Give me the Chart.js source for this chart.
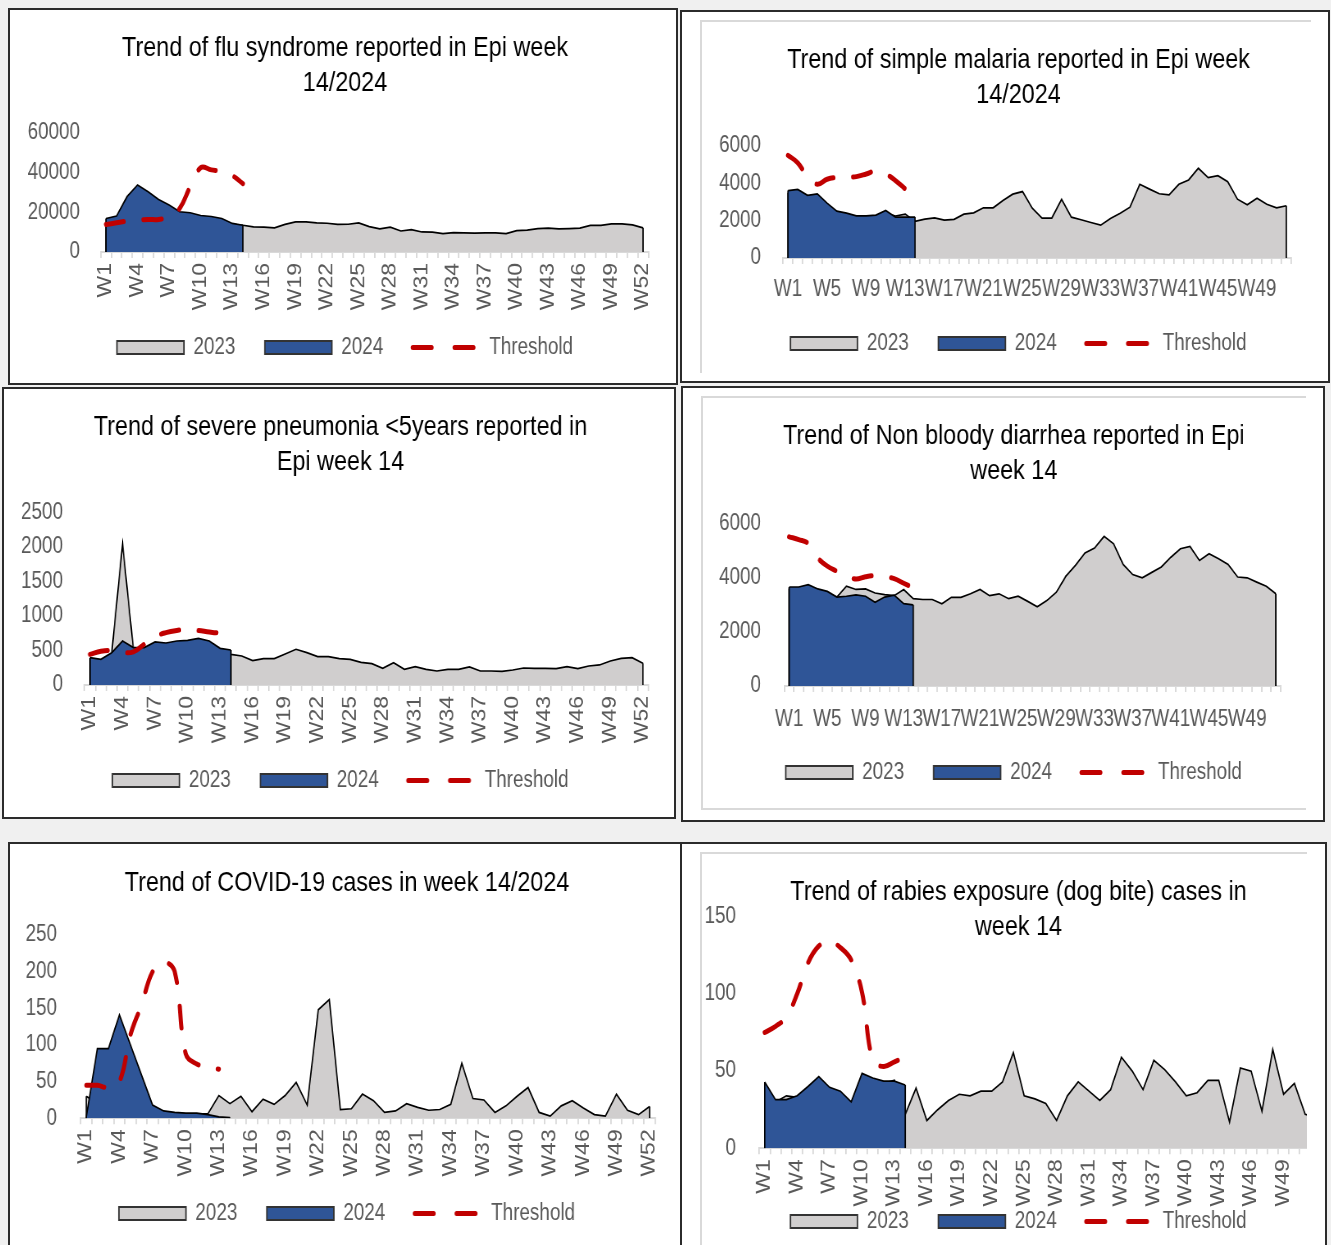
<!DOCTYPE html>
<html><head><meta charset="utf-8">
<script src="https://cdn.jsdelivr.net/npm/chart.js@4.4.1/dist/chart.umd.min.js"></script>
<style>
html,body{margin:0;padding:0;background:#f0f0f0;width:1331px;height:1245px;overflow:hidden;position:relative}
.panel{position:absolute;background:#fff;border:2px solid #2b2b2b;box-sizing:border-box}
.frame{position:absolute;border:0 solid #d9d9d9;box-sizing:border-box}
.wrap{position:absolute;overflow:hidden}
canvas{position:absolute;left:0;top:0;transform-origin:0 0}
</style></head><body>
<div class="panel" style="left:8px;top:8px;width:670px;height:377px"></div>
<div class="panel" style="left:680px;top:10px;width:650px;height:373px"></div>
<div class="frame" style="left:700px;top:20px;width:611px;height:353px;border-top-width:2px;border-left-width:2px"></div>
<div class="panel" style="left:2px;top:387px;width:674px;height:432px"></div>
<div class="panel" style="left:681px;top:386px;width:644px;height:436px"></div>
<div class="frame" style="left:701px;top:396px;width:605px;height:414px;border-top-width:2px;border-left-width:2px;border-bottom-width:2px"></div>
<div class="panel" style="left:8px;top:842px;width:674px;height:420px"></div>
<div class="panel" style="left:680px;top:842px;width:647px;height:420px"></div>
<div class="frame" style="left:700px;top:852px;width:607px;height:400px;border-top-width:2px;border-left-width:2px"></div>
<script>
// ---------- DATA ----------
const weeks = ['W1','W2','W3','W4','W5','W6','W7','W8','W9','W10','W11','W12','W13','W14','W15','W16','W17','W18','W19','W20','W21','W22','W23','W24','W25','W26','W27','W28','W29','W30','W31','W32','W33','W34','W35','W36','W37','W38','W39','W40','W41','W42','W43','W44','W45','W46','W47','W48','W49','W50','W51','W52'];
const seriesNames = ['2023', '2024', 'Threshold'];

const fluTitle = ['Trend of flu syndrome reported in Epi week', '14/2024'];
const flu2023 = [15000,16000,22000,28000,27000,24000,21000,18000,17000,16500,16000,15000,14000,13500,12700,12500,12200,13900,15200,15200,14700,14500,13900,14000,14700,12800,11700,12500,10600,11300,10100,10000,9300,9800,9600,9500,9600,9600,9300,10800,11000,11800,12000,11700,11800,12000,13400,13400,14200,14200,13700,12200];
const flu2024 = [16900,18100,27900,33800,30400,26500,23700,20300,19800,18400,17900,16900,14400,13500];
const fluThreshold = [13900,14700,15600,16000,16400,16400,18000,22000,33000,42500,41400,40500,38500,34500];
const fluTicks = [0, 60000, 20000];

const malariaTitle = ['Trend of simple malaria reported in Epi week', '14/2024'];
const malaria2023 = [3500,3500,3300,3300,2800,2400,2300,2200,2200,2200,2400,2250,2350,1960,2080,2150,2030,2070,2350,2420,2690,2690,3080,3420,3560,2670,2140,2140,3150,2190,2050,1900,1760,2120,2400,2720,3950,3690,3440,3380,3950,4180,4810,4310,4410,4090,3150,2850,3200,2880,2690,2800];
const malaria2024 = [3610,3670,3360,3440,2940,2510,2400,2260,2260,2300,2550,2190,2190,2190];
const malariaThreshold = [5500,5100,4350,3950,4220,4320,4330,4360,4500,4660,4500,4150,3700,3300];
const malariaTicks = [0, 6000, 2000];

const pneuTitle = ['Trend of severe pneumonia <5years reported in', 'Epi week 14'];
const pneu2023 = [380,360,460,2040,520,530,560,580,600,610,620,600,500,444,420,353,382,382,449,517,469,411,411,382,372,328,309,241,324,227,266,227,203,227,227,261,203,203,198,217,246,241,241,237,266,237,275,290,348,386,396,314];
const pneu2024 = [396,372,468,637,541,541,623,608,637,647,676,637,531,507];
const pneuThreshold = [444,488,500,470,480,590,700,758,790,805,790,768,750,740];
const pneuTicks = [0, 2500, 500];

const diarTitle = ['Trend of Non bloody diarrhea reported in Epi', 'week 14'];
const diar2023 = [3600,3600,3700,3500,3350,3280,3680,3560,3580,3430,3370,3330,3560,3220,3190,3190,3030,3270,3270,3400,3560,3330,3400,3220,3310,3120,2920,3150,3460,4050,4450,4910,5090,5520,5240,4480,4110,3990,4190,4390,4750,5060,5150,4630,4880,4690,4480,4020,3990,3830,3680,3400];
const diar2024 = [3650,3650,3740,3580,3490,3280,3310,3360,3310,3090,3280,3350,3040,2990];
const diarThreshold = [5500,5400,5250,4720,4420,4230,4050,3950,4030,4070,4030,3960,3790,3620];
const diarTicks = [0, 6000, 2000];

const covidTitle = 'Trend of COVID-19 cases in week 14/2024';
const covid2023 = [30,20,40,60,50,30,12,8,7,6,6,6,31,20,30,9,26,19,31,49,18,148,162,12,13,33,24,8,10,20,15,11,12,19,75,27,25,8,17,30,42,8,3,17,24,14,5,3,33,11,5,16];
const covid2024 = [2,95,95,141,100,59,18,10,8,7,7,5,2,1];
const covidThreshold = [45,45,42,50,114,155,200,213,200,88,74,70,67];
const covidTicks = [0, 250, 50];

const rabiesTitle = ['Trend of rabies exposure (dog bite) cases in', 'week 14'];
const rabies2023 = [40,30,34,33,38,44,38,35,28,45,43,42,44,22,39,18,25,31,35,34,37,37,43,62,34,32,29,18,34,43,37,31,38,59,50,38,57,51,43,34,36,44,44,17,52,50,24,64,35,42,22,20];
const rabies2024 = [43,31.5,31.5,34,40,46.5,39.5,37,30,48.5,45.5,43.5,43.5,41];
const rabiesThreshold = [75,79,85,100,120,131,134,130,122,101,57,53,56,59];
const rabiesTicks = [0, 150, 50];

// ---------- STYLE ----------
const FONT = "'Liberation Sans', Arial, 'DejaVu Sans', sans-serif";
Chart.defaults.font.family = FONT;
const S = 0.82; // horizontal condensing -> Arial Narrow look
const GRAY = '#D0CECE', BLUE = '#2F5597', RED = '#C00000', TXT = '#595959', AXIS = '#d9d9d9';
const TITLE_SIZE = 28.5, TITLE_LH = 1.23, LEG_FONT = 23, LEG_PAD = 36, TICK_FONT = 23;

const areaEdges = {
  id: 'areaEdges',
  afterDatasetDraw(chart, args) {
    const ds = chart.data.datasets[args.index];
    if (!ds.fill) return;
    const pts = args.meta.data;
    if (!pts.length) return;
    const ctx = chart.ctx, a = chart.chartArea;
    const base = chart.scales.y.getPixelForValue(0);
    ctx.save();
    ctx.beginPath(); ctx.rect(a.left, a.top - 5, a.right - a.left, a.bottom - a.top + 5); ctx.clip();
    ctx.strokeStyle = ds.borderColor; ctx.lineWidth = ds.borderWidth;
    ctx.beginPath();
    [pts[0], pts[pts.length - 1]].forEach(p => { ctx.moveTo(p.x, p.y); ctx.lineTo(p.x, base); });
    ctx.stroke(); ctx.restore();
  }
};

function build(c) {
  const lh = TITLE_SIZE * TITLE_LH;
  const nLines = Array.isArray(c.title) ? c.title.length : 1;
  const padTop = c.titleY - c.cy - lh / 2;
  const padBottom = (c.T - c.cy) - padTop - nLines * lh;
  // Chart.js legend (one row): height = font + padding + 10, text centre = bottom - (font/2 + 10)
  const canvasH = Math.round(c.legendY - c.cy + LEG_FONT / 2 + 10);
  const legendH = LEG_FONT + LEG_PAD + 10;
  const xAxisH = c.cy + canvasH - legendH - c.B;
  const Lc = (c.L - c.cx) / S, Rc = (c.R - c.cx) / S, Cc = (c.C - c.cx) / S, labC = (c.yLabelRight - c.cx) / S;
  let pl = 0, w = 2 * Cc - Rc;
  if (w < 0) { pl = -w; w = 0; }
  const yAxisW = Lc - pl;
  const cwc = Math.ceil(Rc + w + 12 / S);
  const padRight = cwc - Rc - w;

  const wrap = document.createElement('div');
  wrap.className = 'wrap';
  const pageW = c.clipRight ? c.clipRight - c.cx : Math.ceil(cwc * S);
  wrap.style.cssText = `left:${c.cx}px;top:${c.cy}px;width:${pageW}px;height:${canvasH}px`;
  const canvas = document.createElement('canvas');
  canvas.width = cwc; canvas.height = canvasH;
  canvas.style.width = cwc + 'px'; canvas.style.height = canvasH + 'px';
  canvas.style.transform = `scaleX(${S})`;
  wrap.appendChild(canvas); document.body.appendChild(wrap);

  new Chart(canvas, {
    type: 'line',
    data: {
      labels: weeks,
      datasets: [
        {label: seriesNames[0], data: c.d23, fill: 'origin', backgroundColor: GRAY, borderColor: '#000', borderWidth: 1.7, pointRadius: 0, tension: 0, order: 3},
        {label: seriesNames[1], data: c.d24, fill: 'origin', backgroundColor: BLUE, borderColor: '#000', borderWidth: 1.7, pointRadius: 0, tension: 0, order: 2},
        {label: seriesNames[2], data: c.thr, fill: false, borderColor: RED, borderWidth: 5, borderDash: [22, 24], borderCapStyle: 'round', pointRadius: 0, tension: 0.4, order: 1}
      ]
    },
    options: {
      responsive: false, animation: false, devicePixelRatio: 1,
      layout: {padding: {left: pl, top: 0, right: padRight, bottom: 0}},
      plugins: {
        tooltip: {enabled: false},
        title: {display: true, text: c.title, color: '#000',
          font: {size: TITLE_SIZE, weight: 'normal', lineHeight: TITLE_LH},
          padding: {top: padTop, bottom: padBottom}},
        legend: {position: 'bottom',
          labels: {usePointStyle: true, pointStyleWidth: 67 / S, boxWidth: 67 / S, boxHeight: 13,
            padding: LEG_PAD, color: TXT, font: {size: LEG_FONT},
            generateLabels(chart) {
              return chart.data.datasets.map((ds, i) => ({
                text: ds.label,
                fillStyle: ds.fill ? ds.backgroundColor : 'rgba(0,0,0,0)',
                strokeStyle: ds.fill ? '#333' : ds.borderColor,
                lineWidth: ds.fill ? 1.8 : 5,
                lineDash: ds.fill ? [] : [23, 28],
                lineCap: ds.fill ? 'butt' : 'round',
                pointStyle: ds.fill ? 'rect' : 'line',
                hidden: false, datasetIndex: i, fontColor: TXT
              }));
            }}}
      },
      scales: {
        x: {
          type: 'category', offset: true,
          grid: {offset: true, drawOnChartArea: false, drawTicks: true, tickLength: 6, color: AXIS, lineWidth: 1.8},
          border: {display: true, color: AXIS, width: 2},
          ticks: {autoSkip: false, color: TXT, font: {size: TICK_FONT},
            minRotation: c.rotate ? 90 : 0, maxRotation: c.rotate ? 90 : 0,
            padding: c.xPad,
            callback: function(v, i) { return i % c.every === 0 ? this.getLabelForValue(v) : ''; }},
          afterFit(s) { s.height = xAxisH; s._computeLabelArea = () => undefined; }
        },
        y: {
          min: c.ticks[0], max: c.ticks[1],
          grid: {display: false, drawTicks: false},
          border: {display: false},
          ticks: {stepSize: c.ticks[2], color: TXT, font: {size: TICK_FONT}, padding: Lc - labC,
            callback: v => String(v)},
          afterFit(s) { s.width = yAxisW; s._computeLabelArea = () => undefined; }
        },
        yr: {
          position: 'right', display: true,
          grid: {display: false, drawTicks: false},
          border: {display: false},
          ticks: {display: false},
          afterFit(s) { s.width = w; }
        }
      }
    },
    plugins: [areaEdges]
  });
}

build({title: fluTitle, d23: flu2023, d24: flu2024, thr: fluThreshold, ticks: fluTicks,
  cx: 10, cy: 10, L: 100.7, R: 648.3, T: 133, B: 252, C: 345, titleY: 48, legendY: 347, yLabelRight: 80,
  rotate: true, every: 3, xPad: 5});
build({title: malariaTitle, d23: malaria2023, d24: malaria2024, thr: malariaThreshold, ticks: malariaTicks,
  cx: 682, cy: 12, L: 783.1, R: 1291.2, T: 146, B: 258, C: 1018.5, titleY: 60, legendY: 343, yLabelRight: 761,
  rotate: false, every: 4, xPad: 12});
build({title: pneuTitle, d23: pneu2023, d24: pneu2024, thr: pneuThreshold, ticks: pneuTicks,
  cx: 4, cy: 389, L: 84.6, R: 648.3, T: 512.3, B: 685, C: 340.5, titleY: 427, legendY: 780, yLabelRight: 63,
  rotate: true, every: 3, xPad: 5});
build({title: diarTitle, d23: diar2023, d24: diar2024, thr: diarThreshold, ticks: diarTicks,
  cx: 683, cy: 398, L: 784.4, R: 1280.6, T: 523.3, B: 686, C: 1013.8, titleY: 436, legendY: 772, yLabelRight: 761,
  rotate: false, every: 4, xPad: 14});
build({title: covidTitle, d23: covid2023, d24: covid2024, thr: covidThreshold, ticks: covidTicks,
  cx: 10, cy: 845, L: 80.8, R: 655.1, T: 935, B: 1118.3, C: 347, titleY: 883, legendY: 1213, yLabelRight: 57,
  rotate: true, every: 3, xPad: 5});
build({title: rabiesTitle, d23: rabies2023, d24: rabies2024, thr: rabiesThreshold, ticks: rabiesTicks,
  cx: 682, cy: 854, L: 759.3, R: 1321.4, T: 916.7, B: 1148.3, C: 1018.5, titleY: 892, legendY: 1221, yLabelRight: 736,
  rotate: true, every: 3, xPad: 5, clipRight: 1307});
</script>
</body></html>
